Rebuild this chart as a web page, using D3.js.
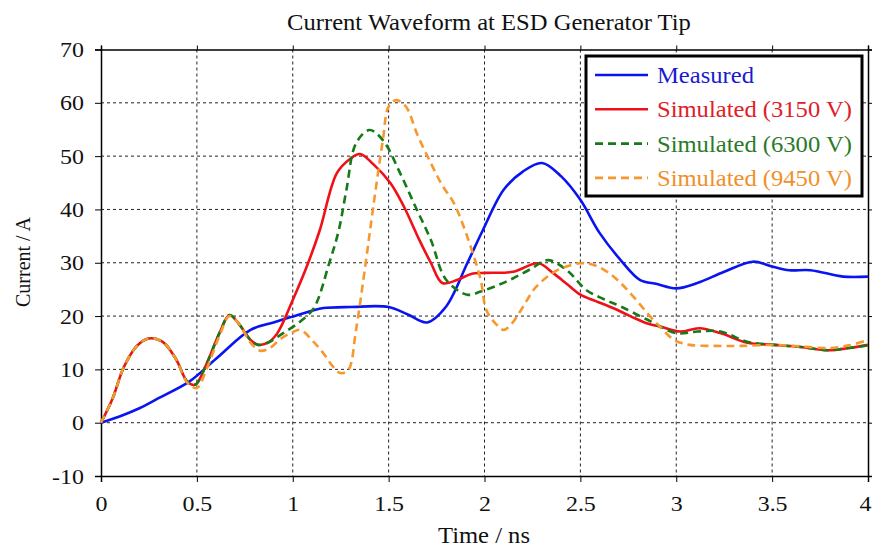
<!DOCTYPE html>
<html>
<head>
<meta charset="utf-8">
<script src="https://cdn.jsdelivr.net/npm/d3@7"></script>
<style>
  html, body { margin: 0; padding: 0; background: #fff; }
  svg { display: block; }
  text { font-family: "Liberation Serif", "Times New Roman", serif; }
</style>
</head>
<body>
<div id="chart"></div>
<script>
// Time axis (ns) and current (A) samples for each waveform
const xTicks = [0, 0.5, 1, 1.5, 2, 2.5, 3, 3.5, 4];
const xTickLabels = ["0", "0.5", "1", "1.5", "2", "2.5", "3", "3.5", "4"];
const yTicks = [-10, 0, 10, 20, 30, 40, 50, 60, 70];
const yTickLabels = ["-10", "0", "10", "20", "30", "40", "50", "60", "70"];

const seriesNames = ["Measured", "Simulated (3150 V)", "Simulated (6300 V)", "Simulated (9450 V)"];

const measuredT = [0, 0.1, 0.2, 0.3, 0.46, 0.6, 0.78, 0.9, 0.99, 1.1, 1.16, 1.3, 1.5, 1.6, 1.7, 1.8, 1.91, 1.99, 2.1, 2.2, 2.3, 2.4, 2.5, 2.6, 2.71, 2.81, 2.9, 3.0, 3.11, 3.25, 3.4, 3.5, 3.59, 3.7, 3.87, 4.0];
const measuredI = [0, 1.2, 2.7, 4.6, 7.7, 12, 17.4, 18.8, 19.8, 21, 21.5, 21.7, 21.7, 20.3, 18.8, 21.8, 29.9, 36, 43.7, 47.1, 48.7, 46.2, 41.8, 35.6, 30.5, 26.8, 26, 25.2, 26.2, 28.3, 30.2, 29.3, 28.6, 28.6, 27.4, 27.4];

const sim3150T = [0, 0.06, 0.12, 0.19, 0.25, 0.32, 0.39, 0.45, 0.49, 0.55, 0.62, 0.67, 0.72, 0.78, 0.82, 0.87, 0.92, 1.0, 1.07, 1.14, 1.23, 1.3, 1.35, 1.42, 1.51, 1.58, 1.66, 1.72, 1.78, 1.86, 1.93, 2.01, 2.15, 2.28, 2.36, 2.43, 2.5, 2.58, 2.67, 2.76, 2.85, 2.93, 3.02, 3.12, 3.23, 3.37, 3.51, 3.65, 3.79, 3.9, 4.0];
const sim3150I = [0, 4.5, 10.5, 14.5, 15.8, 15.2, 12, 7.7, 7.1, 11, 17, 20.2, 18.5, 15.5, 14.6, 15, 16.8, 23, 29, 36, 46.8, 49.5, 50.4, 48.5, 44.9, 40.5, 34.3, 30, 26.2, 26.8, 27.9, 28.1, 28.3, 29.9, 28, 26, 24, 22.8, 21.5, 20, 18.6, 17.9, 17.1, 17.7, 16.8, 15, 14.6, 14.2, 13.6, 14, 14.6];

const sim6300T = [0, 0.06, 0.12, 0.19, 0.25, 0.32, 0.39, 0.45, 0.49, 0.55, 0.62, 0.67, 0.72, 0.78, 0.82, 0.87, 0.95, 1.04, 1.11, 1.19, 1.24, 1.28, 1.33, 1.40, 1.47, 1.56, 1.64, 1.72, 1.80, 1.91, 1.98, 2.07, 2.15, 2.24, 2.33, 2.43, 2.53, 2.62, 2.71, 2.85, 3.0, 3.11, 3.23, 3.37, 3.51, 3.65, 3.79, 3.9, 4.0];
const sim6300I = [0, 4.5, 10.5, 14.5, 15.8, 15.2, 12, 7.7, 7.1, 11, 17, 20.2, 18.5, 15.5, 14.6, 15, 16.8, 19, 21.5, 29.9, 36.1, 43.7, 52.4, 54.9, 53, 46.8, 40.5, 34.3, 26.8, 24, 24.6, 25.8, 27.1, 28.8, 30.5, 28.6, 24.9, 23.2, 21.8, 19.3, 16.8, 17.1, 17.1, 15.2, 14.6, 14.2, 13.6, 14, 14.5];

const sim9450T = [0, 0.06, 0.12, 0.19, 0.25, 0.32, 0.39, 0.45, 0.5, 0.55, 0.62, 0.67, 0.72, 0.78, 0.83, 0.88, 0.94, 0.99, 1.04, 1.1, 1.16, 1.21, 1.25, 1.29, 1.33, 1.38, 1.42, 1.47, 1.50, 1.54, 1.59, 1.65, 1.72, 1.78, 1.84, 1.91, 1.98, 2.01, 2.06, 2.10, 2.14, 2.19, 2.27, 2.38, 2.50, 2.57, 2.64, 2.71, 2.78, 2.85, 2.92, 2.99, 3.07, 3.2, 3.33, 3.51, 3.65, 3.79, 3.9, 4.0];
const sim9450I = [0, 4.5, 10.5, 14.5, 15.8, 15.2, 12, 7.5, 6.5, 10, 16.5, 20, 18.5, 15, 13.5, 14, 15.8, 16.8, 17.4, 15.5, 13, 10.5, 9.3, 9.9, 17.4, 29.9, 40.5, 53, 59.3, 60.5, 59.3, 54, 48.7, 44.5, 41.2, 34.9, 26.8, 21.1, 18.5, 17.4, 18.5, 21.1, 25.5, 28.6, 29.9, 29.6, 28.3, 26.2, 23.5, 20.5, 17.8, 15.5, 14.6, 14.4, 14.4, 14.6, 14.3, 14.0, 14.5, 15.5];

const W = 872, H = 547;
const pLeft = 101, pRight = 868, pTop = 49.5, pBottom = 476;
const serifFont = "Liberation Serif, Times New Roman, serif";
const serifSize = 22.6;
const serifStretch = 1.088;   // wider set of the serif face

const svg = d3.select("#chart").append("svg").attr("width", W).attr("height", H);

// widen serif text glyphs a little
function widen(sel) {
  sel.each(function () {
    const w = this.getComputedTextLength();
    if (w > 0) d3.select(this).attr("textLength", w * serifStretch).attr("lengthAdjust", "spacingAndGlyphs");
  });
}

const x = d3.scaleLinear().domain([0, 4]).range([pLeft, pRight]);
const y = d3.scaleLinear().domain([-10, 70]).range([pBottom, pTop]);

// dashed grid
const grid = svg.append("g").attr("stroke", "#222").attr("stroke-width", 1).attr("stroke-dasharray", "3,3");
grid.selectAll("line.vx").data(xTicks.slice(1, -1)).join("line")
  .attr("x1", d => x(d)).attr("x2", d => x(d)).attr("y1", pTop).attr("y2", pBottom);
grid.selectAll("line.hy").data(yTicks.slice(1, -1)).join("line")
  .attr("y1", d => y(d)).attr("y2", d => y(d)).attr("x1", pLeft).attr("x2", pRight);

// axes with outward ticks on all sides
const fmtX = d => xTickLabels[xTicks.indexOf(d)];
const fmtY = d => yTickLabels[yTicks.indexOf(d)];
const axB = svg.append("g").attr("transform", `translate(0,${pBottom})`)
  .call(d3.axisBottom(x).tickValues(xTicks).tickFormat(fmtX).tickSize(6).tickPadding(13));
const axL = svg.append("g").attr("transform", `translate(${pLeft},0)`)
  .call(d3.axisLeft(y).tickValues(yTicks).tickFormat(fmtY).tickSize(6).tickPadding(11));
const axT = svg.append("g").attr("transform", `translate(0,${pTop})`)
  .call(d3.axisTop(x).tickValues(xTicks).tickFormat("").tickSize(4));
const axR = svg.append("g").attr("transform", `translate(${pRight},0)`)
  .call(d3.axisRight(y).tickValues(yTicks).tickFormat("").tickSize(4));
[axB, axL, axT, axR].forEach(a => {
  a.select(".domain").attr("stroke", "#000").attr("stroke-width", 1.5);
  a.selectAll(".tick line").attr("stroke", "#000");
  a.selectAll("text").attr("font-family", serifFont).attr("font-size", 22).attr("fill", "#111").call(widen);
});
// keep the last time label inside the page edge
axB.selectAll(".tick text").filter(d => d === xTicks[xTicks.length - 1]).attr("dx", -3);

// waveforms
const line = d3.line().x(d => x(d[0])).y(d => y(d[1])).curve(d3.curveCatmullRom.alpha(0.5));
const series = [
  { name: seriesNames[0], t: measuredT, v: measuredI, color: "#0a14f0", text: "#1a1ad0", dash: null },
  { name: seriesNames[1], t: sim3150T, v: sim3150I, color: "#f01018", text: "#e02028", dash: null },
  { name: seriesNames[2], t: sim6300T, v: sim6300I, color: "#157a17", text: "#2a7a2a", dash: "8,5" },
  { name: seriesNames[3], t: sim9450T, v: sim9450I, color: "#f7982e", text: "#f0902a", dash: "8,5" }
];
const plot = svg.append("g");
series.forEach(s => {
  plot.append("path")
    .datum(s.t.map((t, i) => [t, s.v[i]]))
    .attr("fill", "none")
    .attr("stroke", s.color)
    .attr("stroke-width", 2.6)
    .attr("stroke-linejoin", "round")
    .attr("stroke-dasharray", s.dash)
    .attr("d", line);
});

// legend
const lg = svg.append("g");
lg.append("rect").attr("x", 586).attr("y", 56).attr("width", 276).attr("height", 140)
  .attr("fill", "#fff").attr("stroke", "#000").attr("stroke-width", 3);
series.forEach((s, i) => {
  const yy = 75 + i * 34.3;
  lg.append("line").attr("x1", 595).attr("x2", 648).attr("y1", yy).attr("y2", yy)
    .attr("stroke", s.color).attr("stroke-width", 2.6).attr("stroke-dasharray", s.dash);
  lg.append("text").attr("x", 657).attr("y", yy + 8)
    .attr("font-size", serifSize).attr("fill", s.text).text(s.name).call(widen);
});

// titles
svg.append("text").attr("x", 489).attr("y", 30).attr("text-anchor", "middle")
  .attr("font-size", serifSize).attr("fill", "#111").text("Current Waveform at ESD Generator Tip").call(widen);
svg.append("text").attr("x", 484).attr("y", 543).attr("text-anchor", "middle")
  .attr("font-size", serifSize).attr("fill", "#111").text("Time / ns").call(widen);
svg.append("text").attr("transform", `translate(30,262) rotate(-90)`).attr("text-anchor", "middle")
  .attr("font-family", "Liberation Sans, Arial, sans-serif")
  .attr("font-size", 20).attr("fill", "#111").text("Current / A");
</script>
</body>
</html>
